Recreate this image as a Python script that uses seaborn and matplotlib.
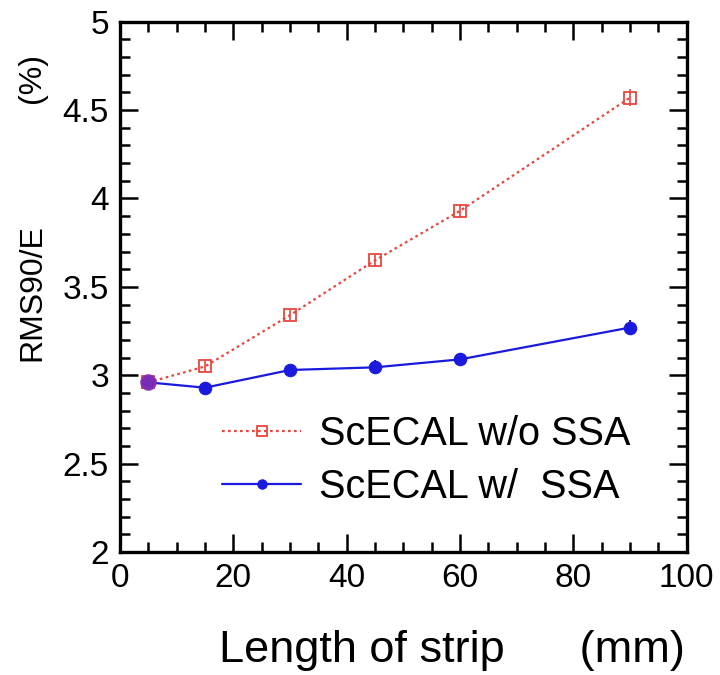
import matplotlib
matplotlib.use("Agg")
import matplotlib.pyplot as plt
from matplotlib.ticker import MultipleLocator
import seaborn as sns
import pandas as pd

strip_length = [5, 15, 30, 45, 60, 90]
res_wo_ssa = [2.96, 3.05, 3.34, 3.65, 3.93, 4.57]
err_wo_ssa = [0.03, 0.03, 0.03, 0.03, 0.04, 0.05]
res_w_ssa = [2.96, 2.93, 3.03, 3.045, 3.09, 3.27]
err_w_ssa = [0.03, 0.03, 0.03, 0.04, 0.03, 0.04]
label_wo = "ScECAL w/o SSA"
label_w = "ScECAL w/  SSA"

sns.set_style("ticks")
plt.rcParams['font.family'] = ['Liberation Sans', 'DejaVu Sans']
plt.rcParams['text.color'] = 'black'
plt.rcParams['xtick.color'] = 'black'
plt.rcParams['ytick.color'] = 'black'

df_wo = pd.DataFrame({"x": strip_length, "y": res_wo_ssa})
df_w = pd.DataFrame({"x": strip_length, "y": res_w_ssa})

fig = plt.figure(figsize=(7.2, 6.75), dpi=100)
ax = fig.add_axes([0.1667, 0.182, 0.787, 0.786])

red = "#e8453c"
blue = "#1a1adf"

ax.errorbar(strip_length, res_wo_ssa, yerr=err_wo_ssa, fmt="none", ecolor=red, elinewidth=1.2, capsize=0, zorder=2)
ax.errorbar(strip_length, res_w_ssa, yerr=err_w_ssa, fmt="none", ecolor=blue, elinewidth=1.5, capsize=0, zorder=2)

sns.lineplot(data=df_wo, x="x", y="y", ax=ax, color=red, linestyle=(0, (1.2, 1.5)),
             linewidth=1.6, marker="s", markersize=9, markerfacecolor="none",
             markeredgecolor=red, markeredgewidth=1.3, label=label_wo, zorder=3)
sns.lineplot(data=df_w, x="x", y="y", ax=ax, color=blue, linestyle="-",
             linewidth=1.6, marker="o", markersize=9, markeredgecolor=blue,
             label=label_w, zorder=4)
# purple overlap at first point
ax.plot([strip_length[0]], [res_wo_ssa[0]], marker="o", markersize=11, color="#8b2fb0",
        alpha=0.85, zorder=5, linestyle="none")

ax.set_xlim(0, 100)
ax.set_ylim(2, 5)
ax.xaxis.set_major_locator(MultipleLocator(20))
ax.xaxis.set_minor_locator(MultipleLocator(5))
ax.yaxis.set_minor_locator(MultipleLocator(0.1))
ax.set_yticks([2, 2.5, 3, 3.5, 4, 4.5, 5])
ax.set_yticklabels(["2", "2.5", "3", "3.5", "4", "4.5", "5"])
ax.tick_params(which="both", direction="in", top=True, right=True, width=1.8, labelsize=24, pad=8,
               colors="black")
ax.tick_params(which="major", length=13)
ax.tick_params(which="minor", length=7)
for sp in ax.spines.values():
    sp.set_linewidth(2.4)
    sp.set_color("black")

ax.set_xlabel("")
ax.set_ylabel("")
fig.text(0.627, 0.036, "Length of strip      (mm)", fontsize=32.5, ha="center", va="center")
fig.text(0.045, 0.566, "RMS90/E", fontsize=23, rotation=90, ha="center", va="center")
fig.text(0.045, 0.884, "(%)", fontsize=23, rotation=90, ha="center", va="center")

leg = ax.legend(loc="center left", bbox_to_anchor=(0.18, 0.173), frameon=False, fontsize=28.5,
                handlelength=2.0, handletextpad=0.45, labelspacing=0.38, borderaxespad=0,
                borderpad=0, markerscale=0.75)
for t in leg.get_texts():
    t.set_color("black")

fig.savefig("out.png", dpi=100)
